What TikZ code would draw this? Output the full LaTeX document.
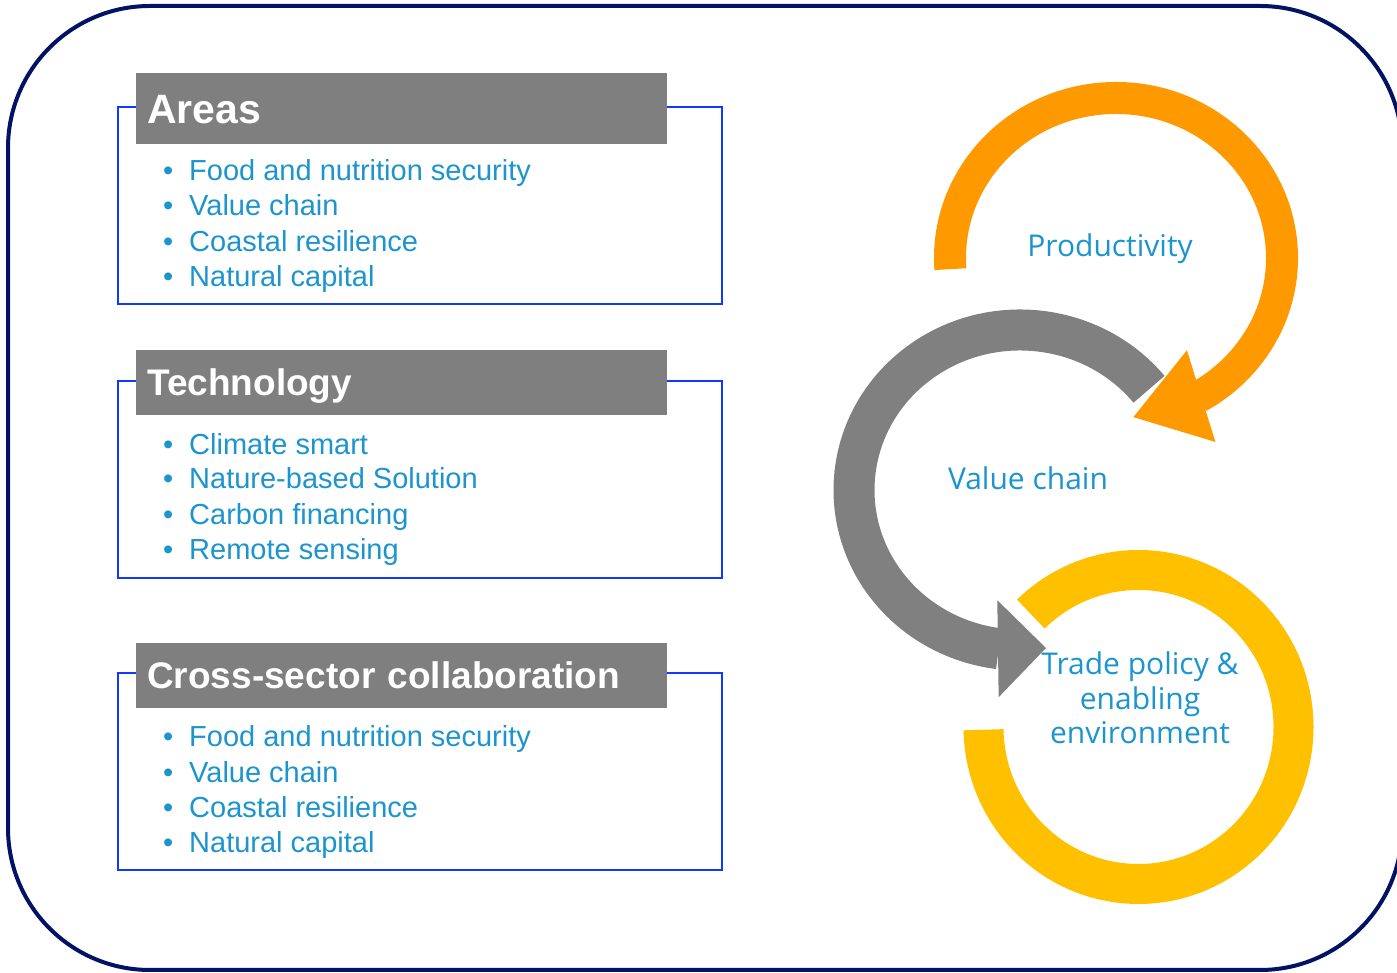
\documentclass[tikz,border=0pt]{standalone}
\usepackage{fontspec}
\setmainfont{Liberation Sans}
\newfontfamily\cycfont{Open Sans}
\usetikzlibrary{arrows.meta,bending}
\definecolor{navyline}{RGB}{2,18,100}
\definecolor{boxblue}{RGB}{16,56,255}
\definecolor{headgray}{RGB}{127,127,127}
\definecolor{itemblue}{RGB}{28,148,205}
\definecolor{cycorange}{RGB}{255,153,0}
\definecolor{cycgray}{RGB}{128,128,128}
\definecolor{cycyellow}{RGB}{255,192,0}
\tikzset{
  listframe/.style={draw=boxblue,line width=2.5pt},
  headbox/.style={fill=headgray,text=white,anchor=north west,inner xsep=11pt,inner ysep=0pt,
    text width=509pt,align=left,text height=26.5pt,text depth=0pt,
    font=\fontsize{37}{44}\bfseries\selectfont},
  item/.style={anchor=base west,inner sep=0pt,text=itemblue,font=\fontsize{29}{35}\selectfont,
    execute at begin node={\makebox[26pt][l]{\textbullet}}},
  cyclabel/.style={text=itemblue,inner sep=0pt,align=center,font=\cycfont\fontsize{30}{34.5}\selectfont}
}
\begin{document}
\begin{tikzpicture}[x=1pt,y=1pt]
\useasboundingbox (0,0) rectangle (1397,973);
\draw[navyline,line width=4pt,rounded corners=142pt] (8,3) rectangle (1402,967);
\draw[listframe] (118,669) rectangle (722,866);
\node[headbox,minimum height=71pt,text height=29.5pt,font=\fontsize{41}{48}\bfseries\selectfont] (areas) at (136,900) {Areas};
\node[item] (a1) at (163,792) {Food and nutrition security};
\node[item] (a2) at (163,757) {Value chain};
\node[item] (a3) at (163,721) {Coastal resilience};
\node[item] (a4) at (163,686) {Natural capital};
\draw[listframe] (118,395) rectangle (722,592);
\node[headbox,minimum height=65pt] (tech) at (136,623) {Technology};
\node[item] (t1) at (163,518) {Climate smart};
\node[item] (t2) at (163,484) {Nature-based Solution};
\node[item] (t3) at (163,448) {Carbon financing};
\node[item] (t4) at (163,413) {Remote sensing};
\draw[listframe] (118,103) rectangle (722,300);
\node[headbox,minimum height=65pt] (cross) at (136,330) {Cross-sector collaboration};
\node[item] (c1) at (163,226) {Food and nutrition security};
\node[item] (c2) at (163,190) {Value chain};
\node[item] (c3) at (163,155) {Coastal resilience};
\node[item] (c4) at (163,120) {Natural capital};
\coordinate (oc) at (1116,715);
\coordinate (gc) at (1020,483);
\coordinate (yc) at (1138.5,246);
\draw[cycyellow,line width=40pt] ([shift={(134:155pt and 157pt)}]yc) arc[start angle=134,end angle=-179,x radius=155pt,y radius=157pt];
\draw[cycgray,line width=41pt,-{Triangle[length=48pt,width=97pt,flex,line width=0pt]}] ([shift={(39:166pt and 160pt)}]gc) arc[start angle=39,end angle=279,x radius=166pt,y radius=160pt];
\draw[cycorange,line width=32pt,-{Triangle[length=71pt,width=96pt,flex,line width=0pt]}] ([shift={(184:166pt and 160pt)}]oc) arc[start angle=184,end angle=-84,x radius=166pt,y radius=160pt];
\node[cyclabel,anchor=base] (prod) at (1110,716) {Productivity};
\node[cyclabel,anchor=base] (vchain) at (1028,483) {Value chain};
\node[cyclabel] (trade) at (1140,275) {Trade policy \&\\enabling\\environment};
\end{tikzpicture}
\end{document}
